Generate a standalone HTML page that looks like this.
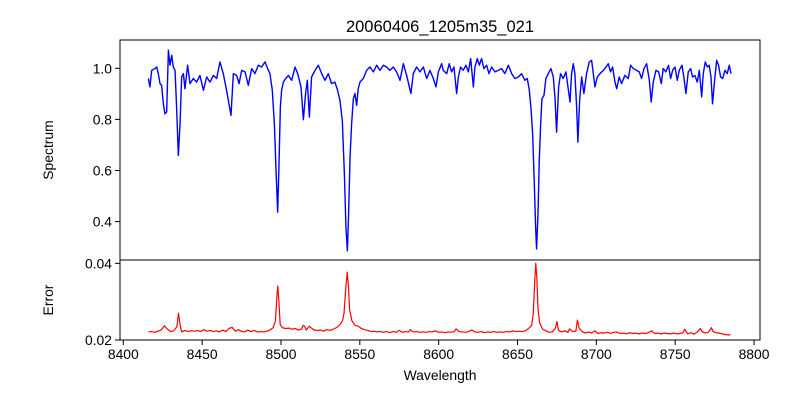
<!DOCTYPE html>
<html><head><meta charset="utf-8"><style>
html,body{margin:0;padding:0;background:#fff;}
svg{display:block;font-family:"Liberation Sans","DejaVu Sans",sans-serif;}
</style></head><body>
<svg id="chart" width="800" height="400" viewBox="0 0 800 400" xmlns="http://www.w3.org/2000/svg">
<rect width="800" height="400" fill="#fff"/>
<text x="440" y="32" font-size="16.5" text-anchor="middle">20060406_1205m35_021</text>
<text transform="translate(53,150) rotate(-90)" font-size="13.9" text-anchor="middle">Spectrum</text>
<text transform="translate(53,300) rotate(-90)" font-size="13.9" text-anchor="middle">Error</text>
<text x="440" y="380" font-size="13.9" text-anchor="middle">Wavelength</text>
<g id="marks"></g>
</svg>
<script>
const specW=[8415.9,8416.9,8418.0,8420.1,8421.2,8422.2,8423.3,8424.3,8425.4,8426.4,8427.5,8428.6,8429.6,8430.7,8431.7,8432.8,8433.8,8434.9,8436.0,8437.0,8438.1,8439.1,8440.8,8442.3,8444.4,8446.5,8448.6,8450.8,8452.9,8455.0,8457.1,8459.2,8461.3,8463.4,8465.5,8467.0,8468.3,8469.8,8471.9,8473.4,8475.1,8477.2,8479.3,8481.4,8483.5,8485.6,8487.7,8489.9,8492.0,8493.0,8494.5,8495.8,8496.8,8497.9,8498.7,8499.6,8500.4,8501.5,8503.0,8504.7,8506.8,8508.9,8510.6,8512.7,8514.2,8515.6,8516.7,8518.0,8519.4,8521.6,8523.7,8525.8,8527.9,8530.0,8532.1,8534.2,8535.9,8537.4,8538.9,8540.2,8541.2,8542.1,8542.9,8543.8,8544.8,8545.9,8546.9,8548.0,8549.0,8550.1,8552.2,8554.3,8556.4,8558.6,8560.7,8562.8,8564.9,8567.0,8569.1,8571.2,8573.3,8575.5,8577.6,8579.7,8582.4,8583.9,8586.0,8588.1,8590.3,8592.4,8594.5,8596.6,8598.3,8599.8,8601.9,
8602.9,8605.1,8606.7,8608.2,8609.7,8611.4,8612.5,8613.9,8615.6,8617.3,8618.8,8620.3,8622.0,8623.0,8624.5,8625.8,8627.2,8628.7,8630.4,8631.9,8633.6,8635.7,8637.8,8639.9,8642.0,8644.2,8646.3,8648.4,8650.5,8652.6,8654.7,8656.2,8657.5,8658.5,8659.6,8660.6,8661.5,8662.1,8663.0,8663.8,8664.7,8665.5,8666.8,8668.0,8669.5,8671.2,8672.7,8673.8,8674.8,8676.1,8677.3,8679.0,8680.7,8682.0,8683.3,8684.3,8685.4,8686.4,8687.5,8688.3,8689.4,8690.7,8692.1,8693.8,8695.5,8697.0,8698.1,8699.1,8700.6,8702.3,8704.4,8706.1,8707.6,8709.0,8710.3,8711.8,8712.9,8714.5,8716.0,8718.1,8720.3,8721.7,8723.4,8725.5,8727.2,8728.7,8730.2,8731.9,8733.6,8734.8,8736.1,8737.8,8739.5,8741.2,8742.4,8744.1,8745.8,8747.1,8748.4,8749.9,8751.3,8752.6,8754.3,8755.5,8756.8,8758.3,8759.8,8761.0,8762.5,8764.0,8765.3,8766.8,8767.8,8769.1,8770.4,8771.6,8772.7,8773.7,8774.8,8776.3,8777.5,8778.8,8780.1,8781.6,8783.0,8784.3,8785.4];
const specV=[0.960,0.927,0.992,0.999,1.005,0.979,0.940,0.933,0.861,0.822,0.829,1.071,1.012,1.051,1.005,0.992,0.848,0.659,0.783,0.966,0.979,0.920,1.012,0.940,0.960,0.946,0.972,0.914,0.966,0.946,0.972,0.960,1.025,0.979,0.914,0.861,0.816,0.979,0.972,0.940,0.992,0.986,0.933,0.999,0.979,1.012,1.005,1.025,0.992,0.979,0.914,0.783,0.613,0.437,0.613,0.848,0.914,0.946,0.960,0.972,0.953,1.005,0.979,0.927,0.799,0.901,0.953,0.809,0.966,0.992,1.012,0.979,0.953,0.979,0.940,0.946,0.914,0.874,0.796,0.587,0.378,0.286,0.430,0.652,0.783,0.881,0.901,0.855,0.920,0.946,0.960,0.992,1.005,0.986,1.012,0.992,1.012,1.005,0.992,1.005,0.986,0.953,1.018,0.972,0.901,0.979,1.005,0.986,1.005,0.960,0.992,0.960,0.927,0.986,1.018,
0.992,0.979,1.018,0.986,1.005,0.901,0.966,1.005,0.992,1.012,0.986,1.038,0.927,1.005,1.038,1.012,1.038,0.999,1.012,0.979,1.005,0.986,0.992,0.999,0.979,1.012,0.979,0.960,0.966,0.979,0.953,0.960,0.914,0.848,0.744,0.561,0.378,0.293,0.430,0.639,0.783,0.881,0.894,0.960,0.979,0.999,0.966,0.881,0.750,0.927,0.979,0.960,0.986,0.927,0.868,0.979,1.018,0.979,0.848,0.711,0.875,0.966,0.901,0.979,1.025,1.031,0.979,0.927,0.966,0.979,0.992,1.005,1.018,0.986,1.005,0.946,0.920,0.966,0.940,0.972,0.960,1.012,0.999,0.992,0.986,0.960,0.999,1.018,0.953,0.868,0.946,0.992,0.986,0.940,0.999,0.986,1.012,0.960,0.992,1.005,0.953,0.992,1.012,0.966,0.901,0.986,0.999,0.966,0.972,0.946,0.992,0.888,0.979,1.025,1.005,1.012,0.966,0.861,0.940,1.031,1.012,0.966,0.960,0.992,0.979,1.012,0.979];
const errW=[8416,8418,8420,8422,8424,8426,8428,8430,8432,8434,8435,8436,8437,8439,8441,8443,8445,8447,8449,8451,8453,8455,8457,8459,8461,8463,8465,8467,8469,8471,8473,8475,8477,8479,8481,8483,8485,8487,8489,8491,8493,8495,8496.5,8497.5,8498,8498.7,8499.5,8501,8503,8505,8507,8509,8511,8513,8514,8515,8516,8518,8519,8521,8523,8525,8527,8529,8531,8533,8535,8537,8539,8540,8541,8542,8542.8,8543.5,8545,8547,8549,8551,8553,8555,8557,8559,8561,8563,8565,8567,8569,8571,8573,8575,8577,8579,8581,8582,8584,8586,8588,8590,8592,8594,8596,8598,8600,8602,8604,8606,8608,8610,8611,8613,8615,8617,8619,8621,8623,8625,8627,8629,8631,8633,8635,8637,8639,8641,8643,8645,8647,8649,8651,8653,8655,8657,8659,8660,8661,8661.6,8662.3,8663,8664,8666,8668,8670,8672,8674,8675,8676,8678,8680,8682,8683,8685,8687,8688,8689,8691,8693,8695,8697,8699,8701,8703,8705,8707,8709,8711,8713,8715,8717,8719,8721,8723,8725,8727,8729,8731,8733,8735,8737,8739,8741,8743,8745,8747,8749,8751,8753,8755,8756,8758,8760,8762,8764,8766,8767,8769,8771,8773,8774,8776,8778,8780,8782,8784,8785];
const errV=[.0221,.0222,.0220,.0223,.0226,.0237,.0228,.0222,.0224,.0235,.0270,.0240,.0221,.0225,.0222,.0224,.0223,.0225,.0222,.0227,.0223,.0225,.0222,.0224,.0221,.0226,.0222,.0230,.0233,.0223,.0227,.0222,.0221,.0226,.0222,.0225,.0221,.0222,.0221,.0223,.0226,.0232,.0250,.0320,.0341,.0300,.0240,.0232,.0230,.0231,.0228,.0230,.0226,.0228,.0238,.0236,.0226,.0236,.0232,.0226,.0225,.0226,.0223,.0227,.0225,.0228,.0232,.0238,.0250,.0270,.0330,.0377,.0340,.0280,.0250,.0238,.0236,.0230,.0227,.0225,.0222,.0223,.0221,.0222,.0220,.0222,.0219,.0222,.0220,.0225,.0220,.0222,.0221,.0227,.0221,.0222,.0220,.0221,.0220,.0222,.0221,.0224,.0220,.0221,.0219,.0221,.0220,.0222,.0229,.0222,.0221,.0220,.0222,.0226,.0221,.0220,.0222,.0219,.0221,.0220,.0222,.0220,.0221,.0220,.0222,.0221,.0224,.0222,.0223,.0222,.0224,.0230,.0238,.0270,.0360,.0400,.0360,.0280,.0245,.0228,.0224,.0220,.0221,.0230,.0248,.0225,.0221,.0224,.0220,.0229,.0222,.0223,.0252,.0232,.0222,.0218,.0221,.0218,.0224,.0217,.0219,.0218,.0220,.0217,.0220,.0221,.0217,.0218,.0216,.0219,.0217,.0218,.0216,.0218,.0217,.0219,.0224,.0217,.0218,.0216,.0218,.0217,.0216,.0218,.0216,.0217,.0219,.0228,.0216,.0219,.0215,.0221,.0230,.0222,.0218,.0220,.0232,.0222,.0219,.0218,.0216,.0214,.0213,.0214];
const xTicks=[8400,8450,8500,8550,8600,8650,8700,8750,8800];
const specTicks=[0.4,0.6,0.8,1.0];
const errTicks=[0.02,0.04];

const NS="http://www.w3.org/2000/svg";
const g=document.getElementById('marks');
const L=120,R=760,T1=40,B1=260,T2=260,B2=340;
const xs=w=>123.3+(w-8400)*1.5768;
const ys=v=>68.3-(v-1.0)*255.5;
const ye=v=>340-(v-0.02)*3833;
function mk(tag,attrs){const e=document.createElementNS(NS,tag);for(const k in attrs)e.setAttribute(k,attrs[k]);g.appendChild(e);return e;}

let d=specW.map((w,i)=>(i?'L':'M')+xs(w).toFixed(2)+','+ys(specV[i]).toFixed(2)).join('');
const p1=mk('path',{d:d,fill:'none',stroke:'#0000ff','stroke-width':1.4,'stroke-linejoin':'round'});


d=errW.map((w,i)=>(i?'L':'M')+xs(w).toFixed(2)+','+ye(errV[i]).toFixed(2)).join('');
const p2=mk('path',{d:d,fill:'none',stroke:'#ff0000','stroke-width':1.2,'stroke-linejoin':'round'});



const f1=mk('rect',{x:L,y:T1,width:R-L,height:B1-T1,fill:'none',stroke:'#000','stroke-width':1});


const f2=mk('rect',{x:L,y:T2,width:R-L,height:B2-T2,fill:'none',stroke:'#000','stroke-width':1});



xTicks.forEach(t=>{const x=xs(t);
 const ln=mk('line',{x1:x,x2:x,y1:B2,y2:B2+5,stroke:'#000','stroke-width':1});
 
 
 const tx=mk('text',{x:x,y:B2+19,'font-size':13.9,'text-anchor':'middle'});tx.textContent=t;
 
 
});
specTicks.forEach(t=>{const y=ys(t);
 const ln=mk('line',{x1:L-5,x2:L,y1:y,y2:y,stroke:'#000','stroke-width':1});
 
 
 const tx=mk('text',{x:L-8,y:y+5,'font-size':13.9,'text-anchor':'end'});tx.textContent=t.toFixed(1);
 
 
});
errTicks.forEach(t=>{const y=ye(t);
 const ln=mk('line',{x1:L-5,x2:L,y1:y,y2:y,stroke:'#000','stroke-width':1});
 
 
 const tx=mk('text',{x:L-8,y:y+5,'font-size':13.9,'text-anchor':'end'});tx.textContent=t.toFixed(2);
 
 
});
</script>
</body></html>
